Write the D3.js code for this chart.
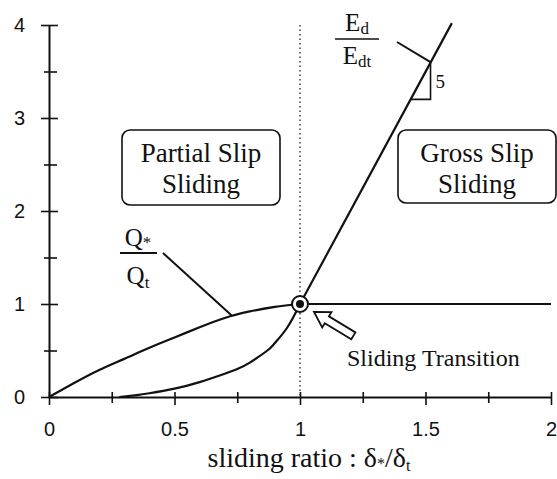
<!DOCTYPE html>
<html>
<head>
<meta charset="utf-8">
<script src="https://cdn.jsdelivr.net/npm/d3@7"></script>
<style>
  body { margin: 0; background: #fff; }
  svg { display: block; }
  .serif { font-family: "Liberation Serif", "Times New Roman", serif; fill: #111; }
  .sans { font-family: "Liberation Sans", Arial, sans-serif; fill: #111; }
</style>
</head>
<body>
<svg width="557" height="479"></svg>
<script>
// Q*/Qt curve (partial slip region)
const qCurve = [[0, 0], [0.1, 0.15], [0.2, 0.29], [0.3, 0.41], [0.4, 0.53], [0.5, 0.64],
                [0.6, 0.75], [0.7, 0.85], [0.8, 0.92], [0.9, 0.97], [1, 1]];
// Q*/Qt after transition
const qFlat = [[1, 1], [2, 1]];
// Ed/Edt curve, lower part
const eCurve = [[0.28, 0], [0.35, 0.02], [0.4, 0.04], [0.5, 0.09], [0.6, 0.16], [0.7, 0.25],
                [0.75, 0.3], [0.8, 0.37], [0.87, 0.5], [0.9, 0.58], [0.95, 0.75], [1, 1]];
// Ed/Edt straight part (slope 5)
const eLine = [[1, 1], [1.605, 4.02]];
// slope triangle on the straight part
const slopeTri = [[1.44, 3.2], [1.52, 3.2], [1.52, 3.6]];
const transition = [1, 1];

const xTicks = [0, 0.5, 1, 1.5, 2];
const xLabels = ["0", "0.5", "1", "1.5", "2"];
const xMinor = [0.25, 0.75, 1.25, 1.75];
const yTicks = [0, 1, 2, 3, 4];
const yMinor = [0.5, 1.5, 2.5, 3.5];

const svg = d3.select("svg");

var x = d3.scaleLinear().domain([0, 2]).range([49, 551]);
var y = d3.scaleLinear().domain([0, 4]).range([397, 25]);

// x axis
var xAxis = svg.append("g")
    .attr("transform", "translate(0," + y(0) + ")")
    .call(d3.axisBottom(x).tickValues(xTicks).tickFormat((d, i) => xLabels[i])
        .tickSize(8).tickSizeOuter(0).tickPadding(17));
xAxis.select(".domain").attr("stroke", "#111").attr("stroke-width", 2);
xAxis.selectAll(".tick line").attr("y1", -5).attr("stroke", "#111").attr("stroke-width", 1.6);
xAxis.selectAll(".tick text").attr("class", "sans").attr("font-size", 20);

var xMinorAxis = svg.append("g")
    .attr("transform", "translate(0," + y(0) + ")")
    .call(d3.axisBottom(x).tickValues(xMinor).tickFormat("").tickSize(6).tickSizeOuter(0));
xMinorAxis.select(".domain").remove();
xMinorAxis.selectAll(".tick line").attr("y1", -5).attr("stroke", "#111").attr("stroke-width", 1.6);

// y axis
var yAxis = svg.append("g")
    .attr("transform", "translate(" + x(0) + ",0)")
    .call(d3.axisLeft(y).tickValues(yTicks).tickFormat(d3.format("d"))
        .tickSize(8).tickSizeOuter(0).tickPadding(16));
yAxis.select(".domain").attr("stroke", "#111").attr("stroke-width", 2);
yAxis.selectAll(".tick line").attr("x2", 9).attr("x1", -8).attr("stroke", "#111").attr("stroke-width", 1.6);
yAxis.selectAll(".tick text").attr("class", "sans").attr("font-size", 20);

var yMinorAxis = svg.append("g")
    .attr("transform", "translate(" + x(0) + ",0)")
    .call(d3.axisLeft(y).tickValues(yMinor).tickFormat("").tickSize(6).tickSizeOuter(0));
yMinorAxis.select(".domain").remove();
yMinorAxis.selectAll(".tick line").attr("x1", -5).attr("x2", 8).attr("stroke", "#111").attr("stroke-width", 1.6);

// dotted line at the transition
svg.append("line")
    .attr("x1", x(1)).attr("x2", x(1))
    .attr("y1", y(4)).attr("y2", y(0))
    .attr("stroke", "#333").attr("stroke-width", 1.4)
    .attr("stroke-dasharray", "1.5,3");

var smooth = d3.line().x(d => x(d[0])).y(d => y(d[1])).curve(d3.curveNatural);
var straight = d3.line().x(d => x(d[0])).y(d => y(d[1]));

svg.append("path").attr("d", smooth(qCurve))
    .attr("fill", "none").attr("stroke", "#111").attr("stroke-width", 2.2);
svg.append("path").attr("d", straight(qFlat))
    .attr("fill", "none").attr("stroke", "#111").attr("stroke-width", 2.2);
svg.append("path").attr("d", smooth(eCurve))
    .attr("fill", "none").attr("stroke", "#111").attr("stroke-width", 2.2);
svg.append("path").attr("d", straight(eLine))
    .attr("fill", "none").attr("stroke", "#111").attr("stroke-width", 2.2);

// slope triangle
svg.append("path").attr("d", straight(slopeTri))
    .attr("fill", "none").attr("stroke", "#111").attr("stroke-width", 1.6);
svg.append("text").attr("class", "serif")
    .attr("x", x(slopeTri[1][0]) + 5).attr("y", y(3.4) + 7)
    .attr("font-size", 19).text("5");

// transition marker
var tx = x(transition[0]), ty = y(transition[1]);
svg.append("circle").attr("cx", tx).attr("cy", ty).attr("r", 8)
    .attr("fill", "#fff").attr("stroke", "#111").attr("stroke-width", 2);
svg.append("circle").attr("cx", tx).attr("cy", ty).attr("r", 4).attr("fill", "#111");

// hollow arrow pointing at the marker
var ang = Math.atan2(23, 38) * 180 / Math.PI;
var arrowPts = [[0, 0], [15, -9], [15, -4], [46, -4], [46, 4], [15, 4], [15, 9]];
svg.append("polygon")
    .attr("points", arrowPts.map(p => p.join(",")).join(" "))
    .attr("transform", "translate(" + (tx + 14) + "," + (ty + 8) + ") rotate(" + ang + ")")
    .attr("fill", "#fff").attr("stroke", "#111").attr("stroke-width", 1.8)
    .attr("stroke-linejoin", "miter");
svg.append("text").attr("class", "serif")
    .attr("x", 347).attr("y", 366).attr("font-size", 24)
    .text("Sliding Transition");

// region boxes
function regionBox(x0, y0, w, h, lines) {
    svg.append("rect").attr("x", x0).attr("y", y0).attr("width", w).attr("height", h)
        .attr("rx", 8).attr("fill", "#fff").attr("stroke", "#111").attr("stroke-width", 1.6);
    lines.forEach(function(t, i) {
        svg.append("text").attr("class", "serif")
            .attr("x", x0 + w / 2).attr("y", y0 + 32 + i * 31)
            .attr("text-anchor", "middle").attr("font-size", 27).text(t);
    });
}
regionBox(122, 130, 158, 75, ["Partial Slip", "Sliding"]);
regionBox(398, 130, 158, 73, ["Gross Slip", "Sliding"]);

// Q*/Qt label
svg.append("text").attr("class", "serif").attr("x", 138).attr("y", 246)
    .attr("text-anchor", "middle").attr("font-size", 25)
    .html('Q<tspan font-size="17" dy="2">*</tspan>');
svg.append("line").attr("x1", 120).attr("x2", 157).attr("y1", 253).attr("y2", 253)
    .attr("stroke", "#111").attr("stroke-width", 2);
svg.append("text").attr("class", "serif").attr("x", 138).attr("y", 284)
    .attr("text-anchor", "middle").attr("font-size", 25)
    .html('Q<tspan font-size="17" dy="4">t</tspan>');
svg.append("line").attr("x1", 163).attr("y1", 253)
    .attr("x2", x(0.73)).attr("y2", y(0.87))
    .attr("stroke", "#111").attr("stroke-width", 2);

// Ed/Edt label
svg.append("text").attr("class", "serif").attr("x", 357).attr("y", 31)
    .attr("text-anchor", "middle").attr("font-size", 25)
    .html('E<tspan font-size="17" dy="3">d</tspan>');
svg.append("line").attr("x1", 335).attr("x2", 379).attr("y1", 39).attr("y2", 39)
    .attr("stroke", "#111").attr("stroke-width", 1.6);
svg.append("text").attr("class", "serif").attr("x", 357).attr("y", 64)
    .attr("text-anchor", "middle").attr("font-size", 25)
    .html('E<tspan font-size="17" dy="3">dt</tspan>');
svg.append("line").attr("x1", 397).attr("y1", 42)
    .attr("x2", x(slopeTri[2][0])).attr("y2", y(slopeTri[2][1]))
    .attr("stroke", "#111").attr("stroke-width", 2);

// axis title
svg.append("text").attr("class", "serif").attr("x", 309).attr("y", 467)
    .attr("text-anchor", "middle").attr("font-size", 28)
    .html('sliding ratio : δ<tspan font-size="16" dy="2">*</tspan><tspan dy="-2">/δ</tspan><tspan font-size="16" dy="4">t</tspan>');
</script>
</body>
</html>
